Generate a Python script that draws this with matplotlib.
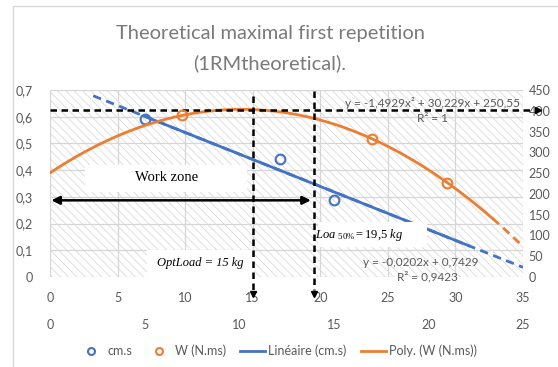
import matplotlib.pyplot as plt
import numpy as np
from matplotlib.patches import Rectangle

plt.rcParams['font.family'] = ['Lato', 'DejaVu Sans']
plt.rcParams['hatch.linewidth'] = 0.6
plt.rcParams['mathtext.fontset'] = 'custom'
plt.rcParams['mathtext.rm'] = 'Liberation Serif'
plt.rcParams['mathtext.it'] = 'Liberation Serif:italic'

# data
load = [7, 17, 21]
cms = [0.59, 0.44, 0.29]          # cm.s, left axis, 0-35 axis
power = [389, 333, 227]           # W (N.ms), right axis, 0-25 axis

x1_ticks = [0, 5, 10, 15, 20, 25, 30, 35]
x2_ticks = [0, 5, 10, 15, 20, 25]
yl_ticks = [0, 0.1, 0.2, 0.3, 0.4, 0.5, 0.6, 0.7]
yl_labels = ['0', '0,1', '0,2', '0,3', '0,4', '0,5', '0,6', '0,7']
yr_ticks = [0, 50, 100, 150, 200, 250, 300, 350, 400, 450]

opt_load = 15
loa50 = 19.5

blue = '#4472C4'
orange = '#ED7D31'
gray = '#595959'

fig = plt.figure(figsize=(5.58, 3.67), dpi=100)
rect = [50/558, 90/367, 473/558, 187/367]
ax = fig.add_axes(rect)
ax2 = fig.add_axes(rect, frameon=False)
ax2.patch.set_visible(False)

# chart border
fig.add_artist(Rectangle((13/558, -0.05), 1.2, 1 - 6/367 + 0.05, transform=fig.transFigure,
                         fill=False, edgecolor='#d9d9d9', lw=1))

# --- primary axes (cm.s) ---
ax.set_xlim(0, 35)
ax.set_ylim(0, 0.7)
ax.add_patch(Rectangle((0, 0), 1, 1, transform=ax.transAxes, facecolor='white',
                       edgecolor='#dadada', hatch='\\\\\\\\', lw=0, zorder=0.2))
ax.grid(True, color='#d6d6d6', lw=0.9)
for s in ax.spines.values():
    s.set_visible(False)
ax.set_xticks(x1_ticks)
ax.set_xticklabels([str(t) for t in x1_ticks])
ax.set_yticks(yl_ticks)
ax.set_yticklabels(yl_labels)
ax.tick_params(axis='x', length=0, pad=11, labelsize=9, labelcolor=gray)
ax.tick_params(axis='y', length=0, pad=12, labelsize=9, labelcolor=gray)

k_lin = np.polyfit(load, cms, 1)
xb = np.linspace(3.2, 35, 100)
ax.plot(xb, np.polyval(k_lin, xb), color=blue, lw=2, dashes=(3, 2), zorder=2)
xb = np.linspace(7, 31, 100)
ax.plot(xb, np.polyval(k_lin, xb), color=blue, lw=2, zorder=2)
ax.plot(load, cms, 'o', mfc='none', mec=blue, mew=1.5, ms=7, zorder=3)

# white label boxes
ax.add_patch(Rectangle((2.6, 0.318), 12.0, 0.1, facecolor='white', lw=0, zorder=4))
ax.add_patch(Rectangle((7.2, -0.004), 7.9, 0.106, facecolor='white', lw=0, zorder=4, clip_on=False))
ax.add_patch(Rectangle((19.8, 0.114), 8.1, 0.091, facecolor='white', lw=0, zorder=4))

ax.text(8.6, 0.372, 'Work zone', family='Liberation Serif', fontsize=10.5,
        ha='center', va='center', zorder=6)
ax.text(11.1, 0.054, 'OptLoad = 15 kg', family='Liberation Serif', style='italic', fontsize=9,
        ha='center', va='center', zorder=6)
ax.text(22.9, 0.157, r'$\mathit{Loa}\ {}_{\mathit{50\%}}\mathit{=19{,}5\ kg}$', fontsize=9,
        ha='center', va='center', zorder=6)

ax.text(28.3, 0.652, 'y = -1,4929x² + 30,229x + 250,55', fontsize=8.5, color=gray,
        ha='center', va='center', zorder=6)
ax.text(28.3, 0.595, 'R² = 1', fontsize=8.5, color=gray, ha='center', va='center', zorder=6)
ax.text(27.4, 0.053, 'y = -0,0202x + 0,7429', fontsize=8.5, color=gray,
        ha='center', va='center', zorder=6)
ax.text(27.9, 0.0, 'R² = 0,9423', fontsize=8.5, color=gray, ha='center', va='center', zorder=6)

# --- secondary axes (W) ---
ax2.set_xlim(0, 25)
ax2.set_ylim(0, 450)
ax2.yaxis.tick_right()
ax2.set_xticks(x2_ticks)
ax2.set_yticks(yr_ticks)
ax2.tick_params(axis='x', length=0, pad=30, labelsize=9, labelcolor=gray)
ax2.tick_params(axis='y', length=0, pad=4, labelsize=9, labelcolor=gray)

k_poly = np.polyfit(load, power, 2)
xo = np.linspace(0, 23.4, 200)
ax2.plot(xo, np.polyval(k_poly, xo), color=orange, lw=2, zorder=2)
xo = np.linspace(23.4, 25, 30)
ax2.plot(xo, np.polyval(k_poly, xo), color=orange, lw=2, dashes=(3, 2), zorder=2)
ax2.plot(load, power, 'o', mfc='none', mec=orange, mew=1.5, ms=7, zorder=3)

# black dashed guides and arrows (in primary data coords)
tr = ax.transData
ax2.plot([0, 35.7], [0.625, 0.625], color='k', lw=1.8, dashes=(2.6, 1.8), transform=tr, clip_on=False)
ax2.plot([36.1], [0.625], marker='>', color='k', ms=5, transform=tr, clip_on=False)
ax2.plot([opt_load, opt_load], [0.678, -0.05], color='k', lw=1.8, dashes=(2.6, 1.8), transform=tr, clip_on=False)
ax2.plot([opt_load], [-0.062], marker='v', color='k', ms=5, transform=tr, clip_on=False)
ax2.plot([loa50, loa50], [0.697, -0.05], color='k', lw=1.8, dashes=(2.6, 1.8), transform=tr, clip_on=False)
ax2.plot([loa50], [-0.062], marker='v', color='k', ms=5, transform=tr, clip_on=False)
ax2.annotate('', xy=(0.1, 0.287), xytext=(19.3, 0.287), xycoords=tr, textcoords=tr,
             arrowprops=dict(arrowstyle='<|-|>', color='k', lw=1.8, mutation_scale=12,
                             shrinkA=0, shrinkB=0))

# title
fig.text(270/558, 1 - 33/367, 'Theoretical maximal first repetition', ha='center', va='center',
         fontsize=14.5, color='#7a7a7a')
fig.text(270/558, 1 - 63/367, '(1RMtheoretical).', ha='center', va='center',
         fontsize=14.5, color='#7a7a7a')

# legend
h = [plt.Line2D([], [], ls='none', marker='o', mfc='none', mec=blue, mew=1.5, ms=5),
     plt.Line2D([], [], ls='none', marker='o', mfc='none', mec=orange, mew=1.5, ms=5),
     plt.Line2D([], [], color=blue, lw=2),
     plt.Line2D([], [], color=orange, lw=2)]
fig.legend(h, ['cm.s', 'W (N.ms)', 'Linéaire (cm.s)', 'Poly. (W (N.ms))'], loc='center',
           bbox_to_anchor=(278/558, 1 - 351/367), ncol=4, frameon=False, fontsize=9,
           labelcolor=gray, handlelength=2, handletextpad=0.3, columnspacing=1.1)

fig.savefig('out.png', dpi=100)
